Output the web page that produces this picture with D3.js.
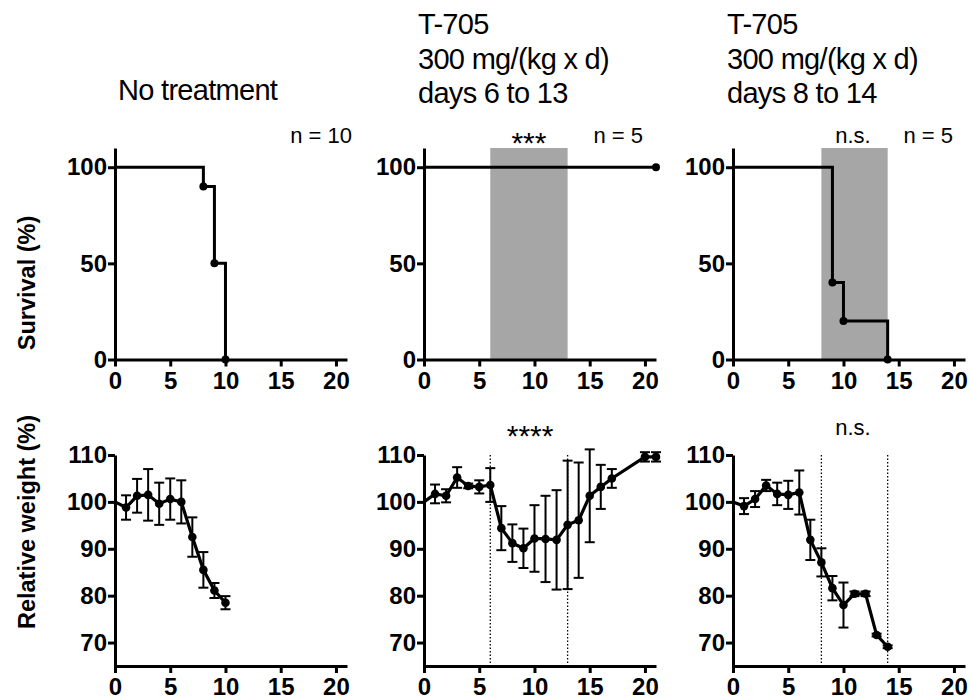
<!DOCTYPE html>
<html>
<head>
<meta charset="utf-8">
<script src="https://cdnjs.cloudflare.com/ajax/libs/d3/7.8.5/d3.min.js"></script>
<style>
  body { margin: 0; background: #fff; }
  svg { display: block; font-family: "Liberation Sans", Arial, sans-serif; }
  .axis path, .axis line { stroke: #000; stroke-width: 3px; }
  .axis text { font-size: 24px; font-weight: bold; fill: #000; }
</style>
</head>
<body>
<script>
document.addEventListener("DOMContentLoaded", () => {

  // panel headers
  const titles = [
    ["No treatment"],
    ["T-705", "300 mg/(kg x d)", "days 6 to 13"],
    ["T-705", "300 mg/(kg x d)", "days 8 to 14"]
  ];
  const nLabels = ["n = 10", "n = 5", "n = 5"];
  const survSig = ["", "***", "n.s."];
  const weightSig = ["", "****", "n.s."];
  const treatStart = [null, 6, 8];
  const treatEnd = [null, 13, 14];

  // ticks
  const xTicks = [0, 5, 10, 15, 20];
  const survTicks = [0, 50, 100];
  const weightTicks = [70, 80, 90, 100, 110];

  // survival curves: [day, survival %]
  const survNone = [[0, 100], [8, 90], [9, 50], [10, 0]];
  const survT6 = [[0, 100], [21, 100]];
  const survT8 = [[0, 100], [9, 40], [10, 20], [14, 0]];

  // relative weight, mean and SD
  const daysNone = [0, 1, 2, 3, 4, 5, 6, 7, 8, 9, 10];
  const weightNone = [100, 98.8, 101.3, 101.5, 99.6, 100.6, 100.0, 92.5, 85.5, 81.1, 78.5];
  const sdNone = [0, 2.6, 3.6, 5.5, 4.5, 4.4, 4.6, 4.2, 3.8, 1.6, 1.4];

  const daysT6 = [0, 1, 2, 3, 4, 5, 6, 7, 8, 9, 10, 11, 12, 13, 14, 15, 16, 17, 20, 21];
  const weightT6 = [100, 101.7, 101.3, 105.2, 103.4, 103.2, 103.6, 94.4, 91.2, 90.1, 92.2, 92.1, 91.9, 95.1, 96.1, 101.3, 103.2, 105.0, 109.6, 109.6];
  const sdT6 = [0, 2.0, 1.4, 2.2, 0.5, 1.4, 3.6, 4.7, 4.0, 4.2, 7.1, 9.2, 10.6, 13.7, 12.3, 9.9, 4.7, 2.0, 1.0, 1.0];

  const daysT8 = [0, 1, 2, 3, 4, 5, 6, 7, 8, 9, 10, 11, 12, 13, 14];
  const weightT8 = [100, 99.1, 100.6, 103.5, 101.7, 101.5, 102.0, 91.9, 87.1, 81.6, 78.0, 80.4, 80.4, 71.6, 69.1];
  const sdT8 = [0, 1.7, 1.7, 1.2, 2.4, 3.0, 4.7, 4.3, 3.0, 2.6, 4.8, 0.5, 0.5, 0.3, 0.3];

  const survival = [survNone, survT6, survT8];
  const weights = [
    daysNone.map((d, i) => ({ d, v: weightNone[i], sd: sdNone[i] })),
    daysT6.map((d, i) => ({ d, v: weightT6[i], sd: sdT6[i] })),
    daysT8.map((d, i) => ({ d, v: weightT8[i], sd: sdT8[i] }))
  ];

  const w = 971;
  const h = 700;
  const panelLeft = [115, 424, 733];
  const panelW = 232;
  const nRight = [237, 219, 220];

  const svg = d3.select("body")
  .append("svg")
  .attr("width", w)
  .attr("height", h);

  const x = d3.scaleLinear().domain([0, 21]).range([0, panelW]);
  const ySurv = d3.scaleLinear().domain([0, 110]).range([359.5, 148]);
  const yWeight = d3.scaleLinear().domain([65, 110]).range([666, 455]);

  // y axis titles
  svg.append("text")
  .attr("transform", "translate(35,283) rotate(-90)")
  .attr("text-anchor", "middle")
  .style("font-size", "23.5px")
  .style("font-weight", "bold")
  .text("Survival (%)");

  svg.append("text")
  .attr("transform", "translate(35,522) rotate(-90)")
  .attr("text-anchor", "middle")
  .style("font-size", "23.5px")
  .style("font-weight", "bold")
  .text("Relative weight (%)");

  const stepLine = d3.line()
  .x((d) => x(d[0]))
  .y((d) => ySurv(d[1]))
  .curve(d3.curveStepAfter);

  const weightLine = d3.line()
  .x((d) => x(d.d))
  .y((d) => yWeight(d.v));

  titles.forEach((lines, p) => {
    const g = svg.append("g").attr("transform", `translate(${panelLeft[p]},0)`);

    // header
    const titleX = p === 0 ? 3 : -6;
    const firstBase = p === 0 ? 100 : 34;
    g.selectAll("text.title")
    .data(lines)
    .enter()
    .append("text")
    .attr("class", "title")
    .attr("x", titleX)
    .attr("y", (d, i) => firstBase + i * 34.5)
    .style("font-size", "29px")
    .style("letter-spacing", "-0.7px")
    .text((d) => d);

    // n label and significance
    g.append("text")
    .attr("x", nRight[p])
    .attr("y", 143)
    .attr("text-anchor", "end")
    .style("font-size", "22px")
    .text(nLabels[p]);

    if (survSig[p]) {
      const stars = survSig[p] === "***";
      g.append("text")
      .attr("x", stars ? x(9.5) : x(10.86))
      .attr("y", stars ? 153 : 143)
      .attr("text-anchor", "middle")
      .style("font-size", stars ? "30px" : "22px")
      .text(survSig[p]);
    }
    if (weightSig[p]) {
      const stars = weightSig[p] === "****";
      g.append("text")
      .attr("x", stars ? x(9.6) : x(10.86))
      .attr("y", stars ? 446 : 435)
      .attr("text-anchor", "middle")
      .style("font-size", stars ? "30px" : "22px")
      .text(weightSig[p]);
    }

    // ---- survival panel ----
    if (treatStart[p] !== null) {
      g.append("rect")
      .attr("x", x(treatStart[p]))
      .attr("y", ySurv(110))
      .attr("width", x(treatEnd[p]) - x(treatStart[p]))
      .attr("height", ySurv(0) - ySurv(110))
      .attr("fill", "#a6a6a6");
    }

    g.append("g")
    .attr("class", "axis")
    .attr("transform", `translate(0,${ySurv(0)})`)
    .call(d3.axisBottom(x).tickValues(xTicks).tickSize(7).tickSizeOuter(0).tickPadding(5));

    g.append("g")
    .attr("class", "axis")
    .call(d3.axisLeft(ySurv).tickValues(survTicks).tickSize(7).tickSizeOuter(0).tickPadding(1));

    g.append("path")
    .datum(survival[p])
    .attr("d", stepLine)
    .attr("fill", "none")
    .attr("stroke", "#000")
    .attr("stroke-width", 3);

    g.selectAll("circle.surv")
    .data(survival[p].slice(1))
    .enter()
    .append("circle")
    .attr("class", "surv")
    .attr("cx", (d) => x(d[0]))
    .attr("cy", (d) => ySurv(d[1]))
    .attr("r", 4)
    .attr("fill", "#000");

    // ---- weight panel ----
    if (treatStart[p] !== null) {
      g.selectAll("line.treat")
      .data([treatStart[p], treatEnd[p]])
      .enter()
      .append("line")
      .attr("class", "treat")
      .attr("x1", (d) => x(d))
      .attr("x2", (d) => x(d))
      .attr("y1", yWeight(110))
      .attr("y2", yWeight(65))
      .attr("stroke", "#000")
      .attr("stroke-width", 1.3)
      .attr("stroke-dasharray", "1.5,2");
    }

    g.append("g")
    .attr("class", "axis")
    .attr("transform", `translate(0,${yWeight(65)})`)
    .call(d3.axisBottom(x).tickValues(xTicks).tickSize(7).tickSizeOuter(0).tickPadding(5));

    g.append("g")
    .attr("class", "axis")
    .call(d3.axisLeft(yWeight).tickValues(weightTicks).tickSize(7).tickSizeOuter(0).tickPadding(1));

    const bars = weights[p].filter((d) => d.sd > 0);

    g.selectAll("line.err")
    .data(bars)
    .enter()
    .append("line")
    .attr("class", "err")
    .attr("x1", (d) => x(d.d))
    .attr("x2", (d) => x(d.d))
    .attr("y1", (d) => yWeight(d.v + d.sd))
    .attr("y2", (d) => yWeight(d.v - d.sd))
    .attr("stroke", "#000")
    .attr("stroke-width", 2);

    ["top", "bottom"].forEach((side) => {
      g.selectAll(`line.cap-${side}`)
      .data(bars)
      .enter()
      .append("line")
      .attr("class", `cap-${side}`)
      .attr("x1", (d) => x(d.d) - 5)
      .attr("x2", (d) => x(d.d) + 5)
      .attr("y1", (d) => yWeight(side === "top" ? d.v + d.sd : d.v - d.sd))
      .attr("y2", (d) => yWeight(side === "top" ? d.v + d.sd : d.v - d.sd))
      .attr("stroke", "#000")
      .attr("stroke-width", 2);
    });

    g.append("path")
    .datum(weights[p])
    .attr("d", weightLine)
    .attr("fill", "none")
    .attr("stroke", "#000")
    .attr("stroke-width", 3.2);

    g.selectAll("circle.wt")
    .data(weights[p].slice(1))
    .enter()
    .append("circle")
    .attr("class", "wt")
    .attr("cx", (d) => x(d.d))
    .attr("cy", (d) => yWeight(d.v))
    .attr("r", 4.3)
    .attr("fill", "#000");
  });

});
</script>
</body>
</html>
